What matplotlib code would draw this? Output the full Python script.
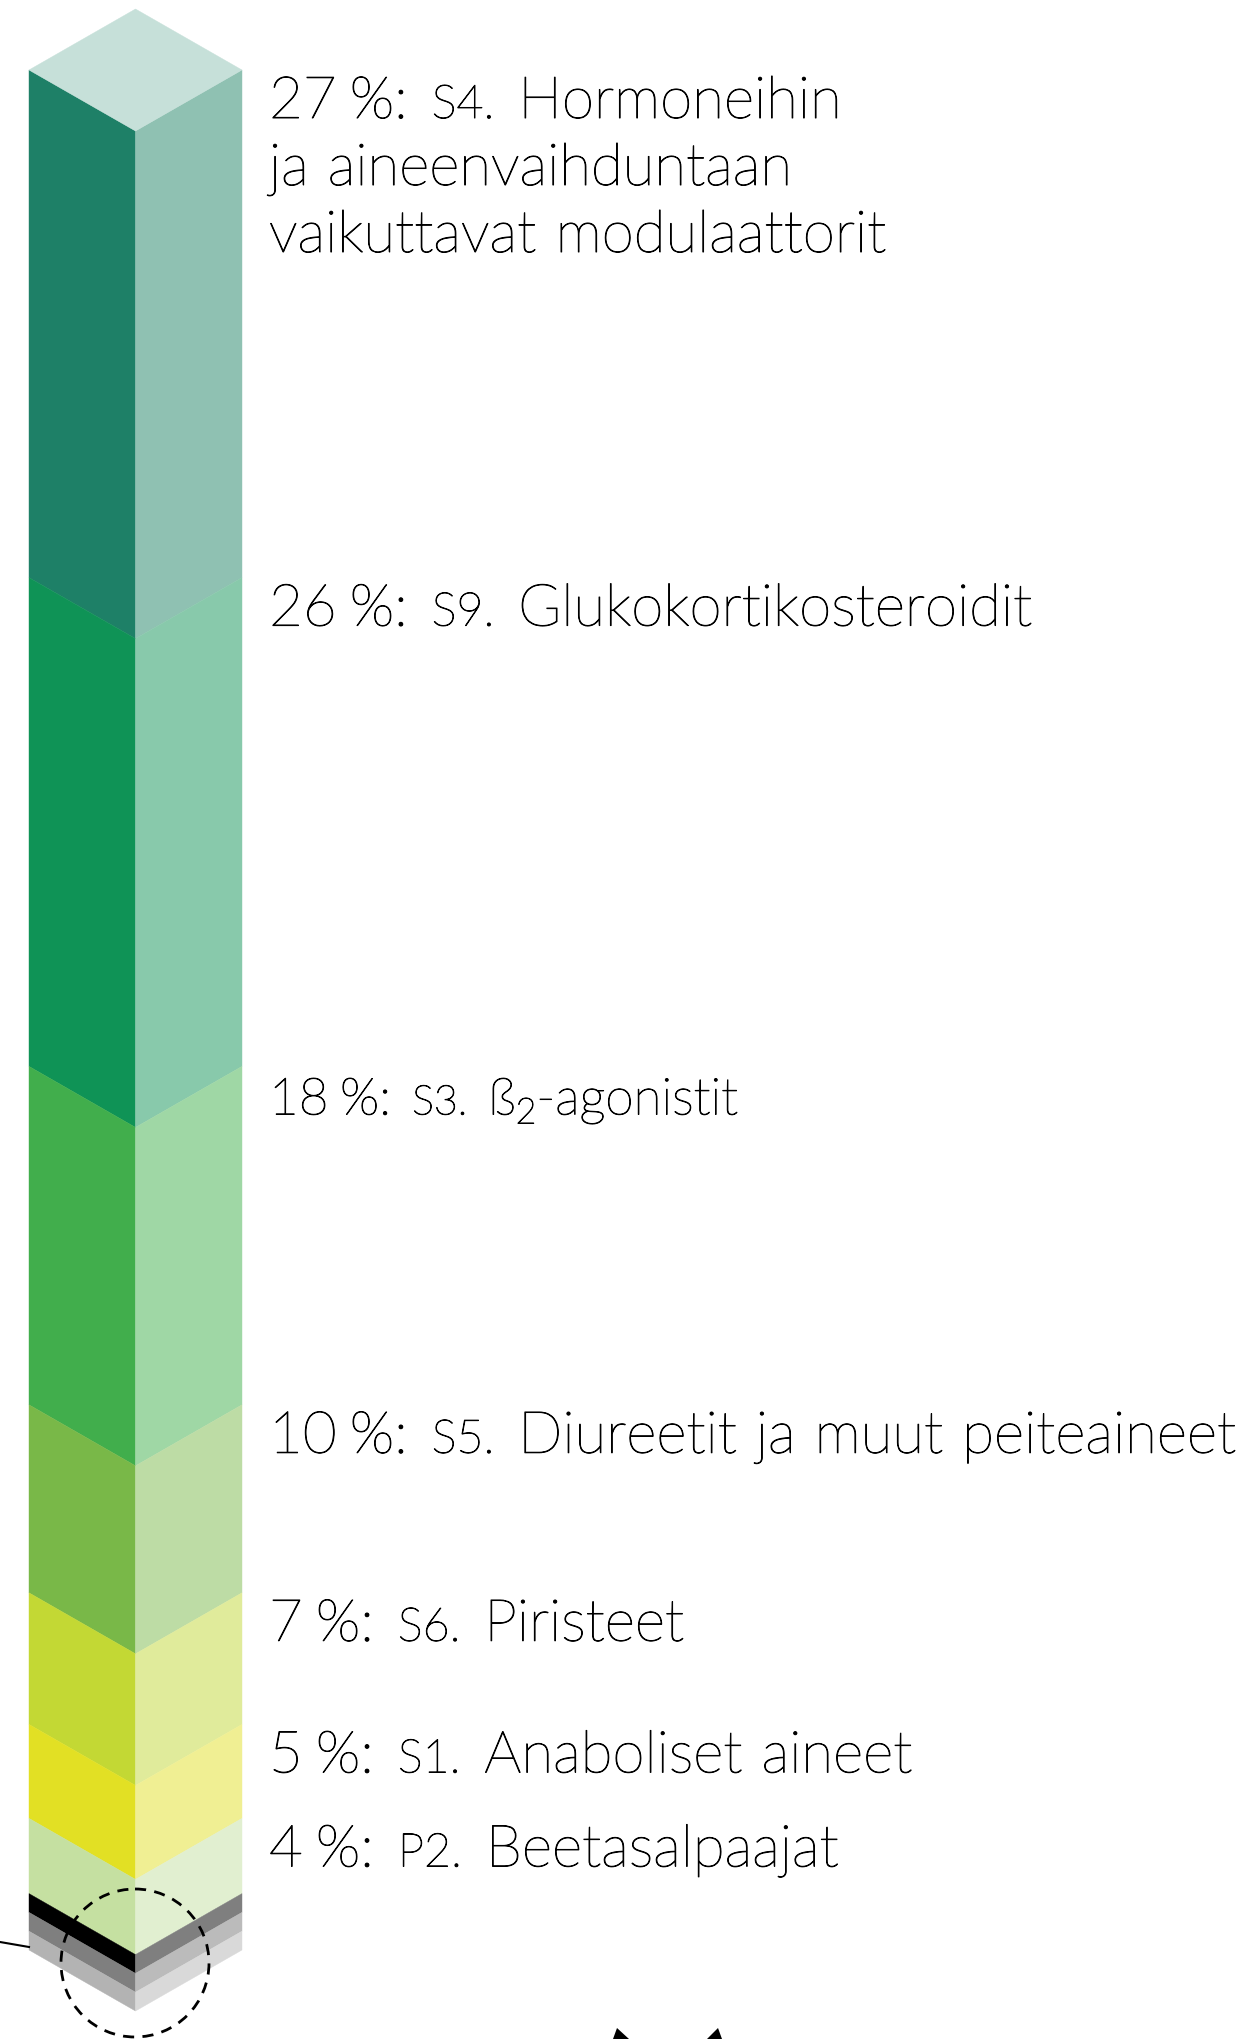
import matplotlib
matplotlib.use("Agg")
import matplotlib.pyplot as plt
import matplotlib.patheffects as pe
from matplotlib.patches import Polygon, Circle

# shares of positive findings, top to bottom (last three: small grey groups)
shares = [27, 26, 18, 10, 7, 5, 4, 1, 1, 1]
codes = ["S4.", "S9.", "S3.", "S5.", "S6.", "S1.", "P2."]
names = [
    ["Hormoneihin", "ja aineenvaihduntaan", "vaikuttavat modulaattorit"],
    ["Glukokortikosteroidit"],
    ["ß2-agonistit"],
    ["Diureetit ja muut peiteaineet"],
    ["Piristeet"],
    ["Anaboliset aineet"],
    ["Beetasalpaajat"],
]
left_cols = ["#1e8067", "#0f9356", "#41ae4c", "#79b848", "#c3d834", "#e2e024",
             "#c5e0a1", "#000000", "#7f7f7f", "#b3b3b3"]
right_cols = ["#8fc1b2", "#88c9ab", "#9fd7a5", "#bddca5", "#e0eb9b", "#f0ef93",
              "#e1efd0", "#7f7f7f", "#bbbbbb", "#d9d9d9"]
top_col = "#c6e0d9"

W, H = 1250, 2040
fig = plt.figure(figsize=(W / 100, H / 100), dpi=100)
ax = fig.add_axes([0, 0, 1, 1])
ax.set_xlim(0, W)
ax.set_ylim(H, 0)
ax.axis("off")

# column geometry (isometric prism)
xl, xm, xr = 29, 135.5, 242
dy = 61
y0 = 71
px = 18.8  # pixels per percent

cum = 0
bounds = []
for v, lc, rc in zip(shares, left_cols, right_cols):
    yt = y0 + cum * px
    yb = y0 + (cum + v) * px
    ax.add_patch(Polygon([(xl, yt), (xm, yt + dy), (xm, yb + dy), (xl, yb)],
                         closed=True, fc=lc, ec=lc, lw=0.3))
    ax.add_patch(Polygon([(xm, yt + dy), (xr, yt), (xr, yb), (xm, yb + dy)],
                         closed=True, fc=rc, ec=rc, lw=0.3))
    bounds.append(yt)
    cum += v

# top face
ax.add_patch(Polygon([(xl, y0), (xm, y0 - dy), (xr, y0), (xm, y0 + dy)],
                     closed=True, fc=top_col, ec=top_col, lw=0.3))

# magnifier circle + pointer line
ax.add_patch(Circle((135, 1964), 74, fill=False, ec="black", lw=2,
                    ls=(0, (4, 3))))
ax.plot([0, 29], [1943, 1948], color="black", lw=1.5)

# fragments of the next graphic peeking at the bottom
ax.add_patch(Polygon([(617, 2029), (613, 2040), (629, 2040)], closed=True, fc="black", ec="none"))
ax.add_patch(Polygon([(718, 2029), (707, 2040), (722, 2040)], closed=True, fc="black", ec="none"))

fig.canvas.draw()
renderer = fig.canvas.get_renderer()

fs = 42
gap = 19
font = dict(family="Lato", weight="light", color="black",
            path_effects=[pe.withStroke(linewidth=0.7, foreground="black")])


def runs_text(x, y, runs, size):
    # runs: (text, size factor, baseline shift, space after in px)
    for txt, sc, off, sp in runs:
        t = ax.text(x, y + off, txt, fontsize=size * sc, va="baseline", ha="left", **font)
        x += t.get_window_extent(renderer).width + sp * size / fs


def words(line):
    ws = line.split(" ")
    return [(w, 1.0, 0, gap if k < len(ws) - 1 else 0) for k, w in enumerate(ws)]


tx = 269
for i, (code, lines) in enumerate(zip(codes, names)):
    base = bounds[i] + 48
    size = fs * (0.88 if i == 2 else 1.0)
    runs = [(f"{shares[i]}", 1.0, 0, 13), ("%:", 1.0, 0, 24), (code, 0.8, 0, 24)]
    first = lines[0]
    if first.startswith("ß2"):
        runs += [("ß", 1.0, 0, 0), ("2", 0.7, 9, 0), (first[2:], 1.0, 0, 0)]
    else:
        runs += words(first)
    runs_text(tx, base, runs, size)
    for k, ln in enumerate(lines[1:], start=1):
        runs_text(tx, base + k * 67, words(ln), size)

fig.savefig("out.png", dpi=100)
